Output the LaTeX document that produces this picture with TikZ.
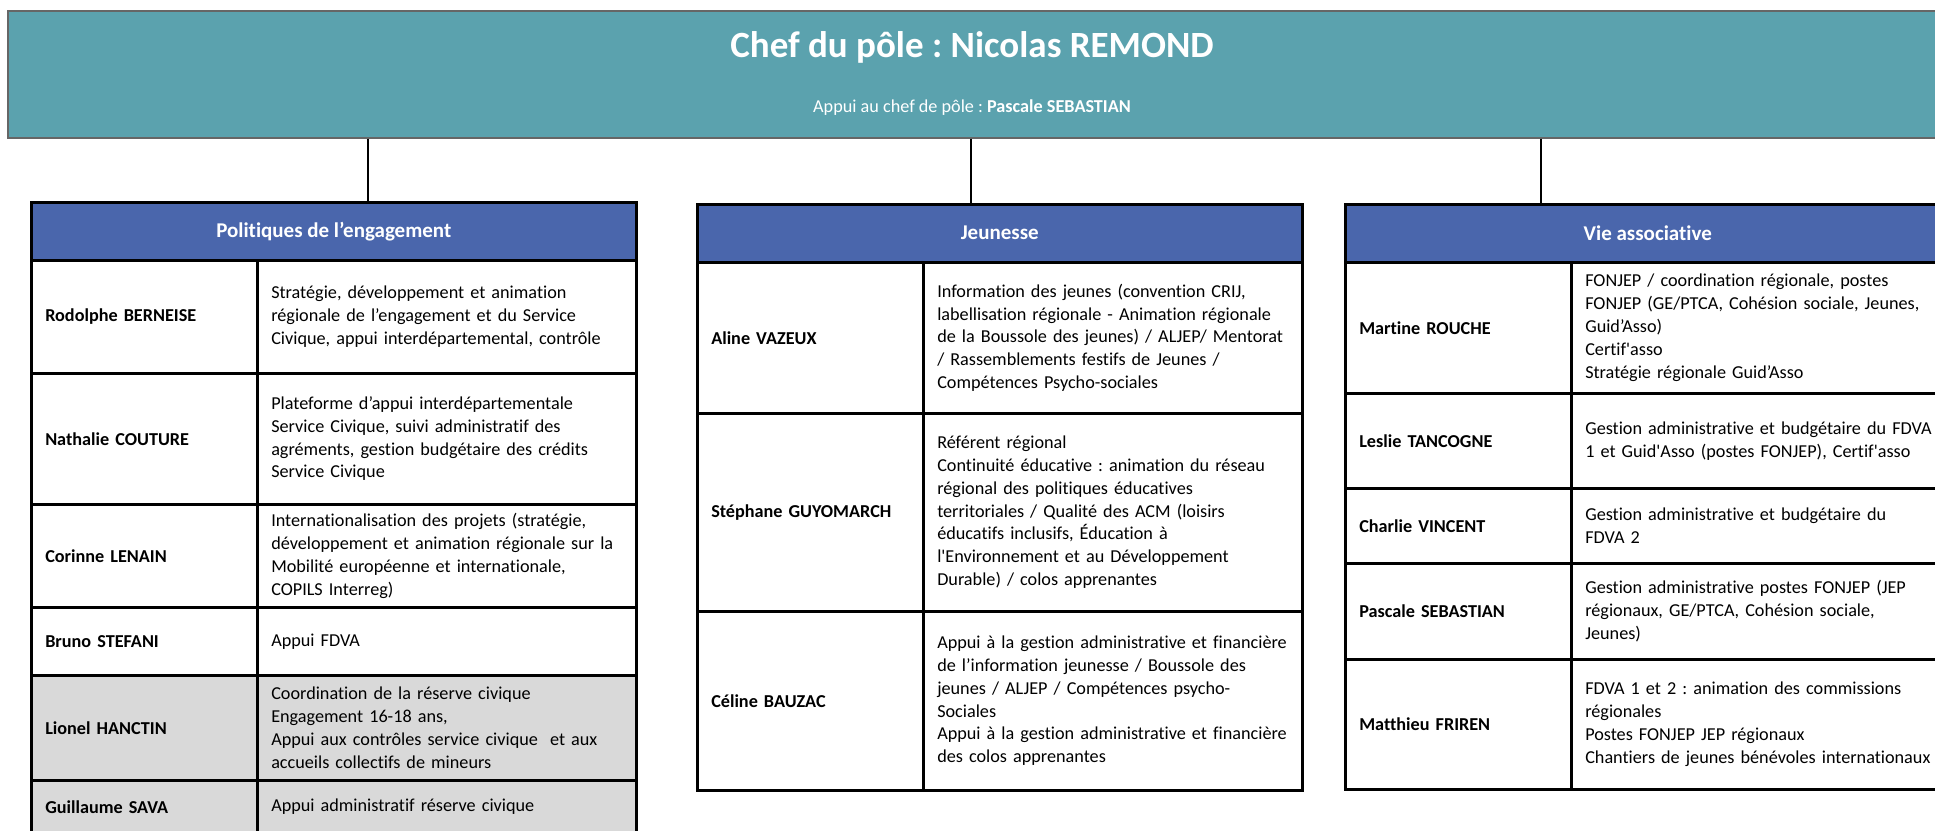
\documentclass[tikz,border=0pt]{standalone}
\usepackage{fontspec}
\setmainfont{Carlito}[Ligatures={TeX,NoCommon}]
\usepackage{xcolor}
\definecolor{chefteal}{HTML}{5BA2AE}
\definecolor{headblue}{HTML}{4A66AC}
\definecolor{rowgray}{HTML}{D9D9D9}
\frenchspacing
\hyphenpenalty=10000
\newcommand{\bodysize}{\fontsize{18.2}{22.8}\selectfont}
\newcommand{\headsize}{\fontsize{21}{25}\selectfont}
\newcommand{\titlesize}{\fontsize{37}{44}\selectfont}

\begin{document}
\begin{tikzpicture}[x=1pt,y=-1pt,
  cell/.style={draw,line width=2.5pt,anchor=north west,inner xsep=14pt,inner ysep=0pt,align=left,font=\bodysize},
  namecell/.style={cell,text width=198pt,font=\bodysize\bfseries},
  desccell/.style={cell,text width=351pt},
  headcell/.style={draw,line width=2.5pt,anchor=north west,fill=headblue,text=white,font=\headsize\bfseries,minimum width=605pt,minimum height=58pt,inner sep=0pt},
  link/.style={line width=2pt}]
\useasboundingbox (0,0) rectangle (1935,830);
\clip (0,0) rectangle (1935,830);

\node[draw=black!60,line width=1.5pt,fill=chefteal,anchor=north west,minimum width=1930pt,minimum height=127pt,inner sep=0pt] (chef) at (7,10) {};
\node[anchor=base,text=white,font=\titlesize\bfseries] (chefTitle) at (972,57) {Chef du pôle : Nicolas REMOND};
\node[anchor=base,text=white,font=\bodysize] (chefSub) at (972,112) {Appui au chef de pôle : \textbf{Pascale SEBASTIAN}};

\node[headcell] (polHead) at (30,201) {Politiques de l’engagement};
\node[namecell,minimum height=113pt] (berneiseName) at (30,259) {Rodolphe BERNEISE};
\node[desccell,minimum height=113pt] (berneiseDesc) at (256,259) {Stratégie, développement et animation\\régionale de l’engagement et du Service\\Civique, appui interdépartemental, contrôle};
\node[namecell,minimum height=131pt] (coutureName) at (30,372) {Nathalie COUTURE};
\node[desccell,minimum height=131pt] (coutureDesc) at (256,372) {Plateforme d’appui interdépartementale\\Service Civique, suivi administratif des\\agréments, gestion budgétaire des crédits\\Service Civique};
\node[namecell,minimum height=103pt] (lenainName) at (30,503) {Corinne LENAIN};
\node[desccell,minimum height=103pt] (lenainDesc) at (256,503) {Internationalisation des projets (stratégie,\\développement et animation régionale sur la\\Mobilité européenne et internationale,\\COPILS Interreg)};
\node[namecell,minimum height=68pt] (stefaniName) at (30,606) {Bruno STEFANI};
\node[desccell,minimum height=68pt] (stefaniDesc) at (256,606) {Appui FDVA};
\node[namecell,fill=rowgray,minimum height=105pt] (hanctinName) at (30,674) {Lionel HANCTIN};
\node[desccell,fill=rowgray,minimum height=105pt] (hanctinDesc) at (256,674) {Coordination de la réserve civique\\Engagement 16-18 ans,\\Appui aux contrôles service civique\ \ et aux\\accueils collectifs de mineurs};
\node[namecell,fill=rowgray,minimum height=53pt] (savaName) at (30,779) {Guillaume SAVA};
\node[desccell,fill=rowgray,minimum height=53pt] (savaDesc) at (256,779) {Appui administratif réserve civique};

\node[headcell] (jeuHead) at (696,203) {Jeunesse};
\node[namecell,minimum height=151pt] (vazeuxName) at (696,261) {Aline VAZEUX};
\node[desccell,minimum height=151pt] (vazeuxDesc) at (922,261) {Information des jeunes (convention CRIJ,\\labellisation régionale - Animation régionale\\de la Boussole des jeunes) / ALJEP/ Mentorat\\/ Rassemblements festifs de Jeunes /\\Compétences Psycho-sociales};
\node[namecell,minimum height=198pt] (guyomarchName) at (696,412) {Stéphane GUYOMARCH};
\node[desccell,minimum height=198pt] (guyomarchDesc) at (922,412) {Référent régional\\Continuité éducative : animation du réseau\\régional des politiques éducatives\\territoriales / Qualité des ACM (loisirs\\éducatifs inclusifs, Éducation à\\l\textquotesingle Environnement et au Développement\\Durable) / colos apprenantes};
\node[namecell,minimum height=179pt] (bauzacName) at (696,610) {Céline BAUZAC};
\node[desccell,minimum height=179pt] (bauzacDesc) at (922,610) {Appui à la gestion administrative et financière\\de l’information jeunesse / Boussole des\\jeunes / ALJEP / Compétences psycho-\\Sociales\\Appui à la gestion administrative et financière\\des colos apprenantes};

\node[headcell] (vieHead) at (1344,203) {Vie associative};
\node[namecell,minimum height=131pt] (roucheName) at (1344,261) {Martine ROUCHE};
\node[desccell,minimum height=131pt] (roucheDesc) at (1570,261) {FONJEP / coordination régionale, postes\\FONJEP (GE/PTCA, Cohésion sociale, Jeunes,\\Guid’Asso)\\Certif\textquotesingle asso\\Stratégie régionale Guid’Asso};
\node[namecell,minimum height=95pt] (tancogneName) at (1344,392) {Leslie TANCOGNE};
\node[desccell,minimum height=95pt] (tancogneDesc) at (1570,392) {Gestion administrative et budgétaire du FDVA\\1 et Guid\textquotesingle Asso (postes FONJEP), Certif\textquotesingle asso};
\node[namecell,minimum height=75pt] (vincentName) at (1344,487) {Charlie VINCENT};
\node[desccell,minimum height=75pt] (vincentDesc) at (1570,487) {Gestion administrative et budgétaire du\\FDVA 2};
\node[namecell,minimum height=96pt] (sebastianName) at (1344,562) {Pascale SEBASTIAN};
\node[desccell,minimum height=96pt] (sebastianDesc) at (1570,562) {Gestion administrative postes FONJEP (JEP\\régionaux, GE/PTCA, Cohésion sociale,\\Jeunes)};
\node[namecell,minimum height=130pt] (frirenName) at (1344,658) {Matthieu FRIREN};
\node[desccell,minimum height=130pt] (frirenDesc) at (1570,658) {FDVA 1 et 2 : animation des commissions\\régionales\\Postes FONJEP JEP régionaux\\Chantiers de jeunes bénévoles internationaux};

\coordinate (polJoin) at ([xshift=34.5pt]polHead.north);
\coordinate (jeuJoin) at ([xshift=-29pt]jeuHead.north);
\coordinate (vieJoin) at ([xshift=-107pt]vieHead.north);
\draw[link] (polJoin |- chef.south) -- (polJoin);
\draw[link] (jeuJoin |- chef.south) -- (jeuJoin);
\draw[link] (vieJoin |- chef.south) -- (vieJoin);

\end{tikzpicture}
\end{document}
